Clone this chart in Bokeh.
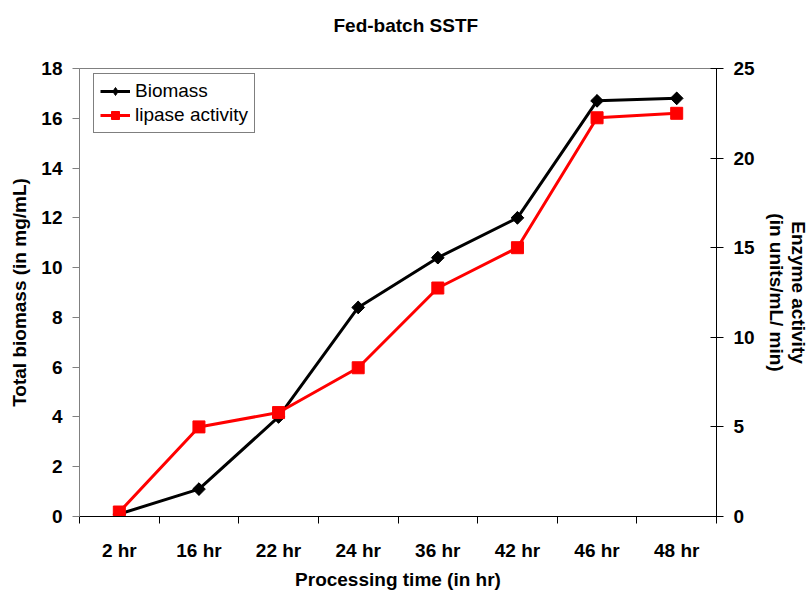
import numpy as np
from bokeh.plotting import figure
from bokeh.models import Range1d, LinearAxis, FixedTicker, Legend, LegendItem, ColumnDataSource
from bokeh.embed import file_html
from bokeh.resources import INLINE

# ---- data ----
categories = ["2 hr", "16 hr", "22 hr", "24 hr", "36 hr", "42 hr", "46 hr", "48 hr"]
biomass = [0.1, 1.1, 4.0, 8.4, 10.4, 12.0, 16.7, 16.8]          # mg/mL (left axis)
lipase = [0.25, 5.0, 5.8, 8.3, 12.75, 15.0, 22.25, 22.5]        # units/mL/min (right axis)
left_ticks = [0, 2, 4, 6, 8, 10, 12, 14, 16, 18]
right_ticks = [0, 5, 10, 15, 20, 25]

FONT = "Liberation Sans"
FS = "19px"

xs = list(np.arange(len(categories)) + 0.5)

p = figure(width=811, height=595, output_backend="svg", toolbar_location=None,
           x_range=Range1d(0, len(categories)), y_range=Range1d(left_ticks[0], left_ticks[-1]),
           min_border_left=79, min_border_right=93, min_border_top=68, min_border_bottom=79,
           title="Fed-batch SSTF\n")
p.extra_y_ranges = {"right": Range1d(right_ticks[0], right_ticks[-1])}

p.background_fill_color = "white"
p.border_fill_color = "white"
p.outline_line_color = "#808080"
p.outline_line_width = 1
p.xgrid.visible = False
p.ygrid.visible = False

# title (trailing empty line keeps it high above the plot area)
p.title.text_font = FONT
p.title.text_font_size = FS
p.title.text_font_style = "bold"
p.title.text_color = "black"
p.title.align = "left"
p.title.offset = 254
p.title.vertical_align = "top"
p.title.standoff = 20

# x axis
xa = p.xaxis[0]
xa.ticker = FixedTicker(ticks=xs, minor_ticks=list(range(len(categories) + 1)))
xa.major_label_overrides = {float(x): c for x, c in zip(xs, categories)}
xa.major_tick_line_color = None
xa.major_tick_out = 7
xa.major_tick_in = 0
xa.minor_tick_line_color = "black"
xa.minor_tick_out = 7
xa.minor_tick_in = 0
xa.axis_line_color = "black"
xa.major_label_text_font = FONT
xa.major_label_text_font_size = FS
xa.major_label_text_font_style = "bold"
xa.major_label_text_color = "black"
xa.major_label_standoff = 16
xa.axis_label = "Processing time (in hr)"
xa.axis_label_text_font = FONT
xa.axis_label_text_font_size = FS
xa.axis_label_text_font_style = "bold"
xa.axis_label_text_color = "black"
xa.axis_label_standoff = 5

# left axis
ya = p.yaxis[0]
ya.ticker = FixedTicker(ticks=left_ticks)
ya.minor_tick_line_color = None
ya.axis_line_color = "#808080"
ya.major_tick_line_color = "#808080"
ya.major_tick_out = 7
ya.major_tick_in = 0
ya.major_label_text_font = FONT
ya.major_label_text_font_size = FS
ya.major_label_text_font_style = "bold"
ya.major_label_text_color = "black"
ya.major_label_standoff = 10
ya.axis_label = "Total biomass (in mg/mL)"
ya.axis_label_text_font = FONT
ya.axis_label_text_font_size = FS
ya.axis_label_text_font_style = "bold"
ya.axis_label_text_color = "black"
ya.axis_label_standoff = 8

# right axis
ra = LinearAxis(y_range_name="right", ticker=FixedTicker(ticks=right_ticks))
ra.minor_tick_line_color = None
ra.axis_line_color = "black"
ra.major_tick_line_color = "black"
ra.major_tick_out = 7
ra.major_tick_in = 6
ra.major_label_text_font = FONT
ra.major_label_text_font_size = FS
ra.major_label_text_font_style = "bold"
ra.major_label_text_color = "black"
ra.major_label_standoff = 10
ra.axis_label = "Enzyme activity\n(in units/mL/ min)"
ra.axis_label_text_font = FONT
ra.axis_label_text_font_size = FS
ra.axis_label_text_font_style = "bold"
ra.axis_label_text_color = "black"
ra.axis_label_text_line_height = 1.05
ra.axis_label_standoff = 8
p.add_layout(ra, "right")

# series
src_b = ColumnDataSource(dict(x=xs, y=biomass, ang=[np.pi / 4] * len(xs)))
src_l = ColumnDataSource(dict(x=xs, y=lipase))
l1 = p.line("x", "y", source=src_b, line_color="black", line_width=3)
# diamond glyph (sits inside the rotated squares; gives the legend its diamond)
d1 = p.scatter("x", "y", source=src_b, marker="diamond", size=12,
               fill_color="black", line_color="black")
m1 = p.scatter("x", "y", source=src_b, marker="square", angle="ang", size=9,
               fill_color="black", line_color="black")
l2 = p.line("x", "y", source=src_l, line_color="#ff0000", line_width=3, y_range_name="right")
m2 = p.scatter("x", "y", source=src_l, marker="square", size=12, fill_color="#ff0000",
               line_color="#ff0000", y_range_name="right")

legend = Legend(items=[LegendItem(label="Biomass", renderers=[l1, d1], index=0),
                       LegendItem(label="lipase activity", renderers=[l2, m2], index=0)],
                location=(14, 383))
legend.label_text_font = FONT
legend.label_text_font_size = FS
legend.label_text_color = "black"
legend.glyph_width = 30
legend.glyph_height = 20
legend.label_height = 20
legend.label_standoff = 5
legend.padding = 6
legend.spacing = 2
legend.margin = 0
legend.border_line_color = "black"
legend.border_line_width = 1
legend.background_fill_color = "white"
legend.background_fill_alpha = 1
p.add_layout(legend)

open("out.html", "w").write(file_html(p, INLINE))
